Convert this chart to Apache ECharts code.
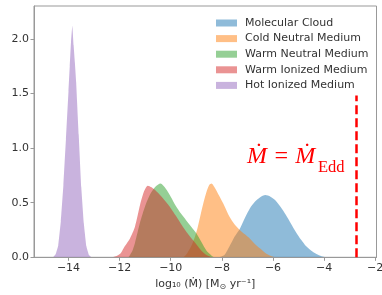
<!DOCTYPE html>
<html>
<head>
<meta charset="utf-8">
<script src="https://cdn.jsdelivr.net/npm/echarts@6/dist/echarts.min.js"></script>
<style>html,body{margin:0;padding:0;background:#fff}#c{width:382px;height:295px}</style>
</head>
<body>
<div id="c"></div>
<script>
const seriesNames = ['Molecular Cloud','Cold Neutral Medium','Warm Neutral Medium','Warm Ionized Medium','Hot Ionized Medium'];
const molecularCloud = [[-8.1,0],[-7.9,0.02],[-7.7,0.1],[-7.5,0.19],[-7.3,0.26],[-7.1,0.36],[-6.9,0.45],[-6.7,0.51],[-6.5,0.55],[-6.3,0.57],[-6.1,0.555],[-5.9,0.52],[-5.7,0.46],[-5.5,0.39],[-5.3,0.31],[-5.1,0.23],[-4.9,0.16],[-4.7,0.1],[-4.5,0.06],[-4.3,0.03],[-4.1,0.01],[-3.9,0]];
const coldNeutral = [[-9.5,0],[-9.35,0.04],[-9.2,0.1],[-9.05,0.19],[-8.95,0.27],[-8.85,0.37],[-8.72,0.5],[-8.6,0.6],[-8.5,0.66],[-8.4,0.675],[-8.3,0.645],[-8.1,0.56],[-7.9,0.47],[-7.7,0.37],[-7.5,0.3],[-7.3,0.25],[-7.1,0.21],[-6.9,0.17],[-6.7,0.12],[-6.5,0.08],[-6.3,0.04],[-6.1,0.015],[-5.9,0]];
const warmNeutral = [[-11.65,0],[-11.5,0.06],[-11.4,0.13],[-11.2,0.32],[-11.0,0.47],[-10.8,0.58],[-10.6,0.645],[-10.4,0.675],[-10.2,0.63],[-10.0,0.555],[-9.8,0.47],[-9.6,0.4],[-9.4,0.34],[-9.2,0.28],[-9.0,0.22],[-8.8,0.14],[-8.6,0.06],[-8.4,0.015],[-8.3,0]];
const warmIonized = [[-12.3,0],[-12.1,0.015],[-11.95,0.04],[-11.8,0.1],[-11.6,0.17],[-11.4,0.28],[-11.2,0.48],[-11.05,0.6],[-10.9,0.655],[-10.75,0.64],[-10.5,0.59],[-10.2,0.51],[-10.0,0.45],[-9.8,0.38],[-9.5,0.27],[-9.25,0.19],[-9.0,0.12],[-8.8,0.06],[-8.6,0.02],[-8.4,0]];
const hotIonized = [[-14.6,0],[-14.5,0.03],[-14.4,0.11],[-14.3,0.33],[-14.2,0.66],[-14.1,1.08],[-14.0,1.52],[-13.95,1.75],[-13.9,1.98],[-13.85,2.12],[-13.8,1.94],[-13.75,1.78],[-13.7,1.6],[-13.6,1.12],[-13.5,0.64],[-13.4,0.31],[-13.3,0.1],[-13.2,0.02],[-13.1,0]];
const xTicks = [-14,-12,-10,-8,-6,-4,-2];
const yTicks = [0,0.5,1.0,1.5,2.0];
const eddingtonX = -2.74;
const eddingtonTop = 1.48;

const colors = ['rgba(31,119,180,0.5)','rgba(255,127,14,0.5)','rgba(44,160,44,0.5)','rgba(214,39,40,0.5)','rgba(148,103,189,0.5)'];
const smoothing = [0.25, 0.25, 0.25, 0.25, 0.1];
const datasets = [molecularCloud, coldNeutral, warmNeutral, warmIonized, hotIonized];
const fmt = v => (v < 0 ? '\u2212' : '') + Math.abs(v);
const chart = echarts.init(document.getElementById('c'));
const series = datasets.map((d, i) => ({
  name: seriesNames[i], type: 'line', data: d, smooth: smoothing[i], symbol: 'none',
  color: colors[i], lineStyle: {width: 0}, areaStyle: {color: colors[i], opacity: 1},
  itemStyle: {color: colors[i]}, z: 2 + i, silent: true
}));
series.push({
  type: 'line', data: [], silent: true,
  markLine: {symbol: 'none', silent: true, label: {show: false},
    lineStyle: {color: '#ff0000', width: 2.5, type: [9, 4]},
    data: [[{coord: [eddingtonX, 0]}, {coord: [eddingtonX, eddingtonTop]}]]}
});
chart.setOption({
  animation: false,
  grid: {left: 34, right: 5.5, top: 6, bottom: 37.7, show: true, borderColor: '#999', borderWidth: 1, containLabel: false, outerBoundsMode: 'none'},
  legend: {
    data: seriesNames, orient: 'vertical', left: 216, top: 17, padding: 0, icon: 'rect', itemWidth: 21, itemHeight: 7,
    itemGap: 3.6, textStyle: {fontFamily: 'DejaVu Sans', fontSize: 11, color: '#333', padding: [0,0,0,3], lineHeight: 12}
  },
  xAxis: {
    type: 'value', min: -15.35, max: -1.95,
    name: 'log\u2081\u2080 (\u1E40) [M{s|\u2299} yr\u207B\u00B9]', nameLocation: 'middle', nameGap: 17,
    nameTextStyle: {fontFamily: 'DejaVu Sans', fontSize: 11, color: '#333', rich: {s: {fontSize: 8, fontFamily: 'DejaVu Sans', color: '#333', padding: [6,0,0,0]}}},
    axisLine: {show: true, lineStyle: {color: '#999'}},
    axisTick: {show: true, length: 3.5, lineStyle: {color: '#999'}, customValues: xTicks},
    axisLabel: {customValues: xTicks, formatter: fmt, fontFamily: 'DejaVu Sans', fontSize: 11, color: '#333', margin: 5},
    splitLine: {show: false}
  },
  yAxis: {
    type: 'value', min: 0, max: 2.3,
    name: 'Normalized Frequency', nameLocation: 'middle', nameGap: 25,
    nameTextStyle: {fontFamily: 'DejaVu Sans', fontSize: 11, color: '#333'},
    axisLine: {show: true, lineStyle: {color: '#999'}},
    axisTick: {show: true, length: 3.5, lineStyle: {color: '#999'}, customValues: yTicks},
    axisLabel: {customValues: yTicks, formatter: v => v.toFixed(1), fontFamily: 'DejaVu Sans', fontSize: 11, color: '#333', margin: 5},
    splitLine: {show: false}
  },
  graphic: [
    {type: 'text', left: 247, top: 145, silent: true, style: {text: '\u1E40 = \u1E40', fontFamily: 'Liberation Serif', fontStyle: 'italic', fontSize: 24, fill: '#ff0000'}},
    {type: 'text', left: 318, top: 159, silent: true, style: {text: 'Edd', fontFamily: 'Liberation Serif', fontSize: 16.5, fill: '#ff0000'}}
  ],
  series: series
});
</script>
</body>
</html>
